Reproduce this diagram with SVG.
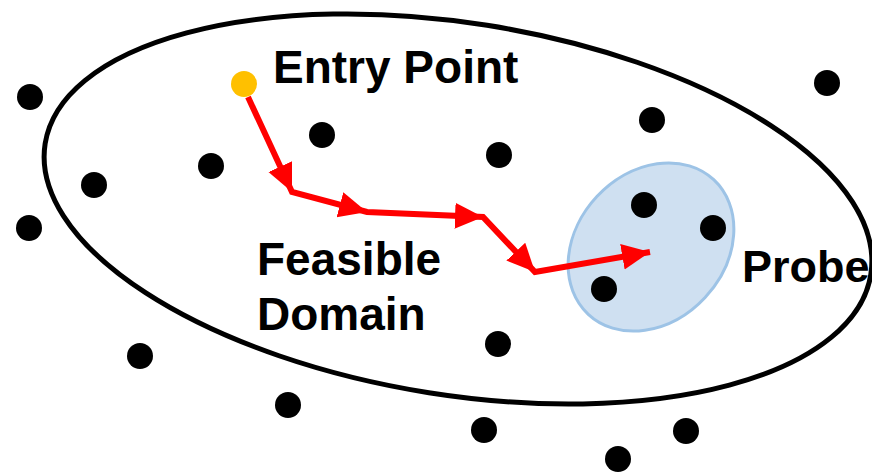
<svg xmlns="http://www.w3.org/2000/svg" width="872" height="472" viewBox="0 0 872 472">
  <style>
    .dot { fill: #000000; }
    .lbl { font-family: "Liberation Sans", Arial, sans-serif; font-weight: bold; font-size: 46px; fill: #000000; }
    .path { fill: none; stroke: #ff0000; stroke-width: 6; stroke-linejoin: miter; }
    .seg { fill: none; stroke: none; marker-end: url(#ah); }
  </style>
  <defs>
    <marker id="ah" markerUnits="userSpaceOnUse" markerWidth="32" markerHeight="32" refX="28" refY="13" orient="auto">
      <path d="M0,0 L28,13 L0,26 Z" fill="#ff0000"/>
    </marker>
  </defs>
  <rect width="872" height="472" fill="#ffffff"/>

  <g id="feasible-domain">
    <ellipse cx="458" cy="209" rx="418" ry="186" transform="rotate(9 458 209)" fill="none" stroke="#000000" stroke-width="5"/>
    <text class="lbl" x="257" y="275">Feasible</text>
    <text class="lbl" x="257" y="330">Domain</text>
  </g>

  <g id="probe">
    <ellipse cx="651" cy="247" rx="92" ry="74" transform="rotate(-47 651 247)" fill="#cfe0f1" stroke="#9dc3e6" stroke-width="3"/>
    <text class="lbl" x="742" y="282" style="font-size:45px">Probe</text>
  </g>

  <g id="points">
    <circle class="dot" cx="30" cy="97" r="13"/>
    <circle class="dot" cx="322" cy="135" r="13"/>
    <circle class="dot" cx="211" cy="166" r="13"/>
    <circle class="dot" cx="94" cy="185" r="13"/>
    <circle class="dot" cx="29" cy="228" r="13"/>
    <circle class="dot" cx="499" cy="155" r="13"/>
    <circle class="dot" cx="652" cy="120" r="13"/>
    <circle class="dot" cx="827" cy="83" r="13"/>
    <circle class="dot" cx="644" cy="205" r="13"/>
    <circle class="dot" cx="713" cy="228" r="13"/>
    <circle class="dot" cx="604" cy="289" r="13"/>
    <circle class="dot" cx="498" cy="344" r="13"/>
    <circle class="dot" cx="140" cy="356" r="13"/>
    <circle class="dot" cx="288" cy="405" r="13"/>
    <circle class="dot" cx="484" cy="430" r="13"/>
    <circle class="dot" cx="686" cy="431" r="13"/>
    <circle class="dot" cx="618" cy="459" r="13"/>
  </g>

  <g id="entry-point">
    <circle cx="244" cy="84" r="13" fill="#ffc000"/>
    <text class="lbl" x="273" y="83">Entry Point</text>
  </g>

  <g id="connectors">
    <polyline class="path" points="248,97 292,192 367,212 483,217 535,272 650,252"/>
    <path class="seg" d="M248,97 L292,192"/>
    <path class="seg" d="M292,192 L367,212"/>
    <path class="seg" d="M367,212 L483,217"/>
    <path class="seg" d="M483,217 L535,272"/>
    <path class="seg" d="M535,272 L650,252"/>
  </g>
</svg>
